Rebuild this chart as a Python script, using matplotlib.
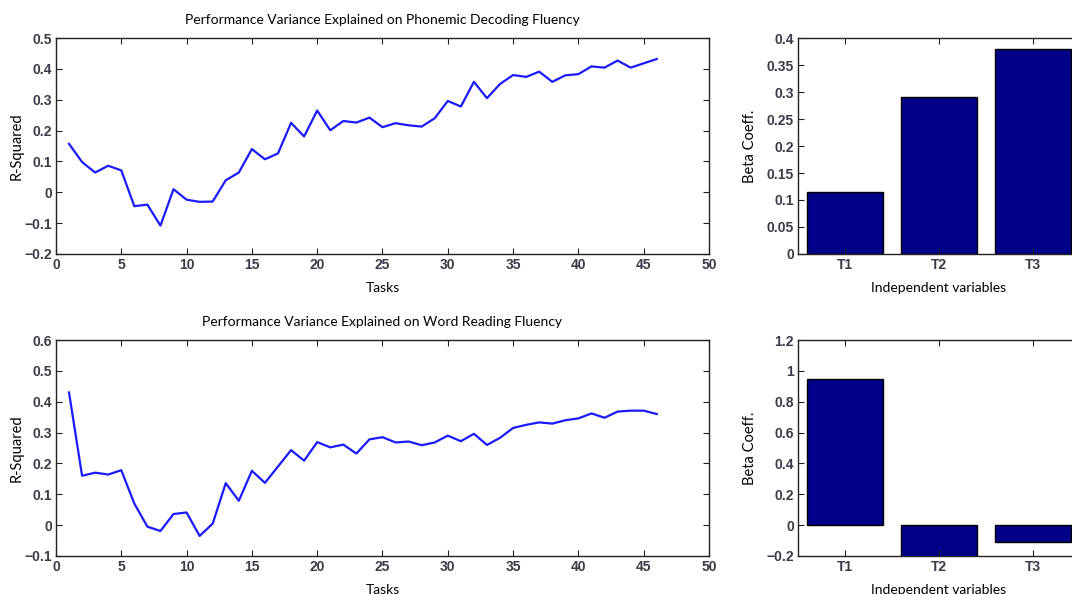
import numpy as np
import matplotlib
matplotlib.use('Agg')
from matplotlib import pyplot as plt

tasks = np.arange(1, 47)

# R-squared per task, phonemic decoding fluency
r2_phonemic = [0.157, 0.098, 0.064, 0.086, 0.071, -0.045, -0.040, -0.108, 0.010, -0.024,
               -0.031, -0.030, 0.039, 0.064, 0.140, 0.107, 0.126, 0.225, 0.181, 0.265,
               0.201, 0.231, 0.226, 0.242, 0.211, 0.224, 0.217, 0.213, 0.240, 0.296,
               0.278, 0.358, 0.305, 0.351, 0.380, 0.374, 0.391, 0.358, 0.379, 0.383,
               0.408, 0.404, 0.427, 0.404, 0.418, 0.432]

# R-squared per task, word reading fluency
r2_word = [0.430, 0.160, 0.170, 0.164, 0.178, 0.070, -0.005, -0.019, 0.036, 0.041,
           -0.035, 0.005, 0.136, 0.079, 0.176, 0.137, 0.190, 0.243, 0.209, 0.269,
           0.252, 0.261, 0.232, 0.278, 0.285, 0.268, 0.271, 0.259, 0.268, 0.290,
           0.272, 0.296, 0.260, 0.283, 0.315, 0.325, 0.333, 0.329, 0.340, 0.346,
           0.362, 0.348, 0.368, 0.371, 0.371, 0.360]

variables = ['T1', 'T2', 'T3']
beta_phonemic = [0.115, 0.290, 0.379]
beta_word = [0.946, -0.205, -0.112]

titles = ['Performance Variance Explained on Phonemic Decoding Fluency',
          'Performance Variance Explained on Word Reading Fluency']

label_font = 'Lato'
tick_font = 'Liberation Sans'

fig = plt.figure(figsize=(10.72, 5.94), dpi=100)

line_pos = [[0.0522, 0.5724, 0.6092, 0.3636], [0.0522, 0.0640, 0.6092, 0.3636]]
bar_pos = [[0.7444, 0.5724, 0.2630, 0.3636], [0.7444, 0.0640, 0.2630, 0.3636]]
line_data = [r2_phonemic, r2_word]
bar_data = [beta_phonemic, beta_word]
line_ylim = [(-0.2, 0.5), (-0.1, 0.6)]
bar_ylim = [(0, 0.4), (-0.2, 1.2)]
bar_ticks = [np.arange(0, 0.401, 0.05), np.arange(-0.2, 1.201, 0.2)]


def fmt(v):
    s = '%g' % round(v, 3)
    return s.replace('-', '\u2212')


def style(ax):
    ax.tick_params(direction='in', top=True, right=True, length=4, width=0.8,
                   labelsize=10, colors='#222222', pad=3)
    for lab in ax.get_xticklabels() + ax.get_yticklabels():
        lab.set_family(tick_font)
        lab.set_fontweight('bold')
        lab.set_color('#3a3a48')
    for s in ax.spines.values():
        s.set_linewidth(1.0)
        s.set_color('#222222')


for i in range(2):
    ax = fig.add_axes(line_pos[i])
    ax.plot(tasks, line_data[i], color='#1a1aff', lw=1.6)
    ax.set_xlim(0, 50)
    ax.set_ylim(*line_ylim[i])
    ax.set_xticks(np.arange(0, 51, 5))
    yt = np.arange(line_ylim[i][0], line_ylim[i][1] + 0.001, 0.1)
    ax.set_yticks(yt)
    ax.set_yticklabels([fmt(v) for v in yt])
    ax.set_title(titles[i], family=label_font, fontsize=10, pad=10)
    ax.set_xlabel('Tasks', family=label_font, fontsize=10, labelpad=7)
    ax.set_ylabel('R-Squared', family=label_font, fontsize=10.5)
    ax.yaxis.set_label_coords(-0.05, 0.5)
    style(ax)

    bx = fig.add_axes(bar_pos[i])
    bx.bar(np.arange(1, 4), bar_data[i], width=0.8, color='#000088',
           edgecolor='black', linewidth=1.0)
    bx.set_xlim(0.5, 3.5)
    bx.set_ylim(*bar_ylim[i])
    bx.set_xticks(np.arange(1, 4))
    bx.set_xticklabels(variables)
    bx.set_yticks(bar_ticks[i])
    bx.set_yticklabels([fmt(v) for v in bar_ticks[i]])
    bx.set_xlabel('Independent variables', family=label_font, fontsize=10, labelpad=7)
    bx.set_ylabel('Beta Coeff.', family=label_font, fontsize=10.5)
    bx.yaxis.set_label_coords(-0.145, 0.5)
    style(bx)

fig.savefig('out.png', dpi=100)
